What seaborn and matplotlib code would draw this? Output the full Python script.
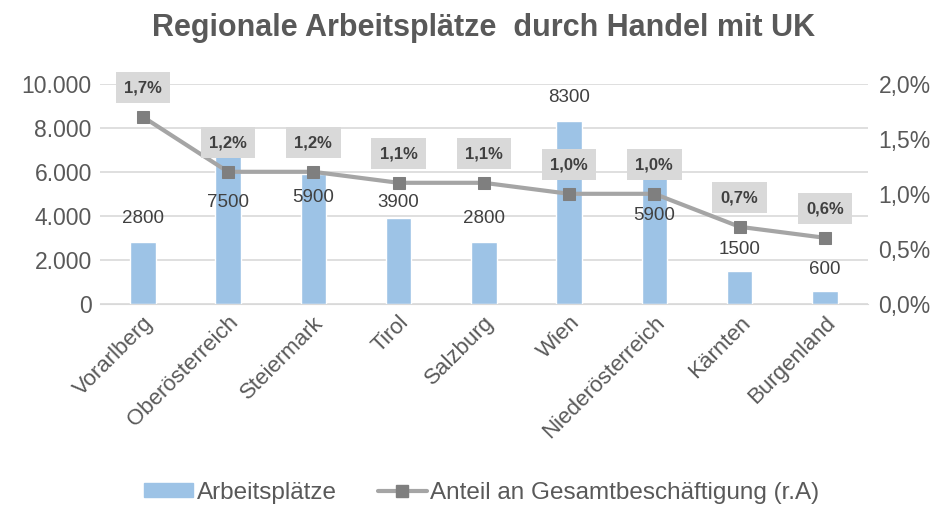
import numpy as np
import pandas as pd
import matplotlib.pyplot as plt
import seaborn as sns
from matplotlib.patches import Patch
from matplotlib.lines import Line2D

regions = ["Vorarlberg", "Oberösterreich", "Steiermark", "Tirol", "Salzburg",
           "Wien", "Niederösterreich", "Kärnten", "Burgenland"]
jobs = [2800, 7500, 5900, 3900, 2800, 8300, 5900, 1500, 600]
share = [1.7, 1.2, 1.2, 1.1, 1.1, 1.0, 1.0, 0.7, 0.6]
yticks_left = [0, 2000, 4000, 6000, 8000, 10000]
yticks_right = [0.0, 0.5, 1.0, 1.5, 2.0]

# label offsets (points) for the job numbers, some moved below the line like in the original
job_label_offsets = [17, -46, -17, 11, 17, 17, -30, 15, 15]

df = pd.DataFrame({"Region": regions, "Arbeitsplätze": jobs, "Anteil": share})

sns.set_style("white")
plt.rcParams["font.family"] = ["Liberation Sans", "DejaVu Sans"]

gray_txt = "#595959"
bar_col = "#9dc3e6"
line_col = "#a5a5a5"
mark_col = "#7f7f7f"
grid_col = "#d9d9d9"

fig = plt.figure(figsize=(9.45, 5.08), dpi=100)
ax = fig.add_axes([0.106, 0.402, 0.812, 0.433])

sns.barplot(data=df, x="Region", y="Arbeitsplätze", color=bar_col, width=0.3,
            saturation=1, ax=ax, zorder=2)
ax.set_ylim(0, 10000)
ax.set_xlim(-0.5, len(regions) - 0.5)
ax.set_yticks(yticks_left)
ax.set_yticklabels([f"{v:,}".replace(",", ".") for v in yticks_left],
                   fontsize=16.5, color=gray_txt)
ax.yaxis.grid(True, color=grid_col, linewidth=1.2, zorder=0)
ax.set_axisbelow(True)
ax.set_xlabel("")
ax.set_ylabel("")
ax.tick_params(axis="both", length=0, pad=6)
ax.set_xticks(range(len(regions)))
ax.set_xticklabels(regions, rotation=45, ha="right", rotation_mode="anchor",
                   fontsize=16, color=gray_txt)
for s in ["top", "left", "right"]:
    ax.spines[s].set_visible(False)
ax.spines["bottom"].set_color(grid_col)

for i, v in enumerate(jobs):
    ax.annotate(str(v), (i, v), xytext=(0, job_label_offsets[i]),
                textcoords="offset points", ha="center", va="center",
                fontsize=13.5, color="#404040", zorder=5)

ax2 = ax.twinx()
sns.lineplot(x=np.arange(len(regions)), y=share, ax=ax2, color=line_col,
             linewidth=3, marker="s", markersize=9, markerfacecolor=mark_col,
             markeredgecolor=mark_col, zorder=4)
ax2.set_ylim(0, 2.0)
ax2.set_yticks(yticks_right)
ax2.set_yticklabels([f"{v:.1f}%".replace(".", ",") for v in yticks_right],
                    fontsize=16.5, color=gray_txt)
ax2.tick_params(axis="y", length=0, pad=8)
for s in ["top", "left", "right", "bottom"]:
    ax2.spines[s].set_visible(False)

for i, v in enumerate(share):
    ax2.annotate(f"{v:.1f}%".replace(".", ","), (i, v), xytext=(0, 21),
                 textcoords="offset points", ha="center", va="center",
                 fontsize=12, fontweight="bold", color="#404040",
                 bbox=dict(boxstyle="square,pad=0.5", fc="#d9d9d9", ec="none"),
                 zorder=6)

fig.text(0.512, 0.945, "Regionale Arbeitsplätze  durch Handel mit UK",
         ha="center", va="center", fontsize=22, fontweight="bold", color=gray_txt)

handles = [Patch(color=bar_col),
           Line2D([0], [0], color=line_col, linewidth=3, marker="s",
                  markersize=8, markerfacecolor=mark_col, markeredgecolor=mark_col)]
fig.legend(handles, ["Arbeitsplätze", "Anteil an Gesamtbeschäftigung (r.A)"],
           loc="center", bbox_to_anchor=(0.51, 0.03), ncol=2, frameon=False,
           fontsize=17.5, labelcolor=gray_txt, handlelength=2.0, handleheight=0.5,
           handletextpad=0.15, columnspacing=1.7)

fig.savefig("out.png", dpi=100)
